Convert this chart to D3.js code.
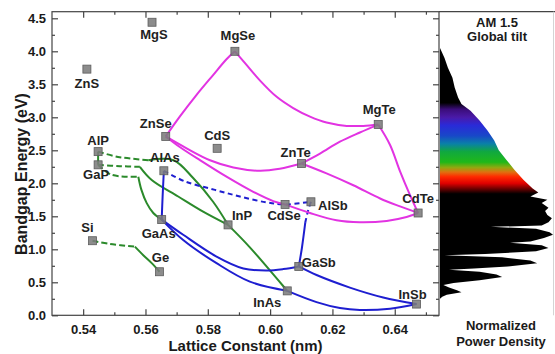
<!DOCTYPE html>
<html>
<head>
<meta charset="utf-8">
<script src="https://cdn.jsdelivr.net/npm/d3@7/dist/d3.min.js"></script>
<style>
	body {margin: 0; background: #fff;}
	svg {display: block; font-family: "Liberation Sans", Arial, sans-serif; font-weight: bold;}
</style>
</head>
<body>
<svg id="chart" width="555" height="354"></svg>
<script>
// Binary compounds: lattice constant (nm) and bandgap (eV)
const compounds = ["ZnS", "MgS", "MgSe", "ZnSe", "CdS", "AlP", "GaP", "AlAs", "GaAs", "Si",
	"Ge", "InP", "InAs", "CdSe", "AlSb", "GaSb", "InSb", "CdTe", "ZnTe", "MgTe"];
const latticeNm = [0.5412, 0.5621, 0.5887, 0.5665, 0.5830, 0.5448, 0.5448, 0.5659, 0.5652, 0.5430,
	0.5645, 0.5865, 0.6055, 0.6048, 0.6131, 0.6092, 0.6470, 0.6475, 0.6101, 0.6347];
const bandgapEv = [3.73, 4.44, 4.00, 2.71, 2.53, 2.48, 2.28, 2.19, 1.45, 1.13,
	0.66, 1.37, 0.37, 1.68, 1.72, 0.74, 0.17, 1.55, 2.30, 2.89];

// Alloy curves, [lattice nm, bandgap eV]
const alpGap = [[0.5448, 2.48], [0.5448, 2.28]];
const alpInpIndirect = [[0.5448, 2.48], [0.5512, 2.40], [0.5609, 2.35]];
const alpInpDirect = [[0.5609, 2.35], [0.5690, 2.35], [0.5753, 2.08], [0.5817, 1.72], [0.5865, 1.37]];
const gapInpIndirect = [[0.5448, 2.28], [0.5518, 2.26], [0.5582, 2.25]];
const gapInpDirect = [[0.5582, 2.25], [0.5620, 2.05], [0.5705, 1.80], [0.5785, 1.57], [0.5865, 1.37]];
const gapGaasIndirect = [[0.5448, 2.28], [0.5491, 2.13], [0.5577, 2.10]];
const gapGaasDirect = [[0.5577, 2.10], [0.5587, 1.90], [0.5604, 1.70], [0.5625, 1.55], [0.5652, 1.45]];
const inpInas = [[0.5865, 1.37], [0.5935, 1.03], [0.6055, 0.37]];
const siGeIndirect = [[0.5430, 1.13], [0.5486, 1.08], [0.5566, 1.04]];
const siGeDirect = [[0.5566, 1.04], [0.5593, 0.91], [0.5620, 0.79], [0.5645, 0.66]];

const alasGaas = [[0.5659, 2.19], [0.5655, 1.80], [0.5652, 1.45]];
const alasAlsb = [[0.5659, 2.19], [0.5726, 2.03], [0.5823, 1.90], [0.5903, 1.80], [0.5989, 1.71], [0.6048, 1.68], [0.6131, 1.72]];
const alsbGasbIndirect = [[0.6131, 1.72], [0.6121, 1.57], [0.6113, 1.41]];
const alsbGasbDirect = [[0.6113, 1.41], [0.6102, 1.02], [0.6092, 0.74]];
const gaasGasb = [[0.5652, 1.45], [0.5721, 1.22], [0.5828, 0.89], [0.5914, 0.71], [0.5989, 0.68], [0.6042, 0.70], [0.6092, 0.74]];
const gaasInas = [[0.5652, 1.45], [0.5721, 1.14], [0.5828, 0.79], [0.5935, 0.51], [0.6055, 0.37]];
const inasInsb = [[0.6055, 0.37], [0.6149, 0.20], [0.6224, 0.11], [0.6288, 0.08], [0.6385, 0.10], [0.6470, 0.17]];
const gasbInsb = [[0.6092, 0.74], [0.6149, 0.61], [0.6256, 0.42], [0.6363, 0.27], [0.6470, 0.17]];

const znseMgse = [[0.5665, 2.71], [0.5710, 3.01], [0.5764, 3.34], [0.5817, 3.64], [0.5860, 3.88], [0.5887, 4.00]];
const mgseMgte = [[0.5887, 4.00], [0.5925, 3.79], [0.5967, 3.56], [0.6021, 3.31], [0.6074, 3.14], [0.6128, 3.01],
	[0.6181, 2.92], [0.6246, 2.87], [0.6299, 2.87], [0.6347, 2.89]];
const znteMgte = [[0.6101, 2.30], [0.6160, 2.45], [0.6224, 2.63], [0.6288, 2.77], [0.6347, 2.89]];
const mgteCdte = [[0.6347, 2.89], [0.6385, 2.58], [0.6417, 2.18], [0.6449, 1.82], [0.6475, 1.55]];
const znseZnte = [[0.5665, 2.71], [0.5732, 2.53], [0.5807, 2.35], [0.5882, 2.24], [0.5967, 2.19], [0.6031, 2.22], [0.6101, 2.30]];
const znteCdte = [[0.6101, 2.30], [0.6181, 2.15], [0.6267, 1.97], [0.6353, 1.77], [0.6417, 1.65], [0.6475, 1.55]];
const znseCdse = [[0.5665, 2.71], [0.5710, 2.55], [0.5775, 2.35], [0.5860, 2.10], [0.5946, 1.87], [0.6010, 1.73], [0.6048, 1.68]];
const cdseCdte = [[0.6048, 1.68], [0.6128, 1.55], [0.6213, 1.44], [0.6288, 1.41], [0.6374, 1.43], [0.6438, 1.49], [0.6475, 1.55]];

// AM 1.5 spectrum: photon energy (eV) and normalized power density
const spectrumEv = [4.05, 3.90, 3.75, 3.60, 3.45, 3.30, 3.20, 3.10, 2.95, 2.80, 2.65, 2.50, 2.35, 2.20, 2.05,
	1.92, 1.86, 1.80, 1.75, 1.70, 1.63, 1.58, 1.52, 1.47, 1.41, 1.36, 1.34, 1.31, 1.26, 1.22, 1.17, 1.12,
	1.10, 1.06, 1.02, 0.97, 0.93, 0.91, 0.88, 0.83, 0.79, 0.74, 0.71, 0.69, 0.66, 0.62, 0.58, 0.53, 0.49,
	0.46, 0.42, 0.38, 0.35, 0.31, 0.28, 0.25];
const spectrumPower = [0, 0.04, 0.07, 0.11, 0.13, 0.16, 0.19, 0.27, 0.35, 0.42, 0.48, 0.52, 0.59, 0.66, 0.74,
	0.82, 0.87, 0.80, 0.95, 0.90, 0.96, 0.93, 0.95, 0.99, 0.96, 0.90, 0.45, 0.85, 0.97, 1.00, 0.92, 0.80,
	0.62, 0.90, 0.96, 0.85, 0.40, 0.04, 0.55, 0.80, 0.86, 0.60, 0.30, 0.08, 0.35, 0.50, 0.55, 0.35, 0.12,
	0.03, 0.08, 0.15, 0.19, 0.06, 0.02, 0];
const spectrumStopEv = [3.22, 3.12, 3.00, 2.88, 2.72, 2.60, 2.48, 2.32, 2.24, 2.17, 2.10, 2.00, 1.92, 1.84];
const spectrumStopColor = ["#000000", "#3b0d7a", "#4a1aa8", "#2a2ad8", "#1848c8", "#0a80a8", "#10a840",
	"#20b818", "#90a810", "#e07010", "#ff2a00", "#e00000", "#700000", "#000000"];

const xTicks = [0.54, 0.56, 0.58, 0.60, 0.62, 0.64];
const xMinorTicks = [0.55, 0.57, 0.59, 0.61, 0.63, 0.65];
const yTicks = [0, 0.5, 1.0, 1.5, 2.0, 2.5, 3.0, 3.5, 4.0, 4.5];
const yMinorTicks = [0.25, 0.75, 1.25, 1.75, 2.25, 2.75, 3.25, 3.75, 4.25];

// label placement relative to marker, pixels (dx to text centre, dy to baseline)
const labelOffset = {
	ZnS: [0, 19], MgS: [2, 17], MgSe: [3, -11], ZnSe: [-10, -8], CdS: [0, -8], AlP: [0, -7],
	GaP: [-2, 14], AlAs: [1, -9], GaAs: [-3, 18], Si: [-5, -9], Ge: [1, -10], InP: [14, -5],
	InAs: [-20, 16], CdSe: [-1, 16], AlSb: [22, 8], GaSb: [20, 1], InSb: [-4, -5], CdTe: [0, -10],
	ZnTe: [-6, -7], MgTe: [1, -11]
};

const COLORS = {green: "#2b8a2b", blue: "#1e1ed0", magenta: "#e233e2"};

const alloyLines = [
	{pts: alpGap, color: "green"},
	{pts: alpInpIndirect, color: "green", dashed: true},
	{pts: alpInpDirect, color: "green"},
	{pts: gapInpIndirect, color: "green", dashed: true},
	{pts: gapInpDirect, color: "green"},
	{pts: gapGaasIndirect, color: "green", dashed: true},
	{pts: gapGaasDirect, color: "green"},
	{pts: inpInas, color: "green"},
	{pts: siGeIndirect, color: "green", dashed: true},
	{pts: siGeDirect, color: "green"},
	{pts: alasGaas, color: "blue"},
	{pts: alasAlsb, color: "blue", dashed: true},
	{pts: alsbGasbIndirect, color: "blue", dashed: true},
	{pts: alsbGasbDirect, color: "blue"},
	{pts: gaasGasb, color: "blue"},
	{pts: gaasInas, color: "blue"},
	{pts: inasInsb, color: "blue"},
	{pts: gasbInsb, color: "blue"},
	{pts: znseMgse, color: "magenta"},
	{pts: mgseMgte, color: "magenta"},
	{pts: znteMgte, color: "magenta"},
	{pts: mgteCdte, color: "magenta"},
	{pts: znseZnte, color: "magenta"},
	{pts: znteCdte, color: "magenta"},
	{pts: znseCdse, color: "magenta"},
	{pts: cdseCdte, color: "magenta"}
];

const PLOT = {LEFT: 52, RIGHT: 439, TOP: 11.7, BOTTOM: 315.3};
const PANEL_RIGHT = 553;

const svg = d3.select("#chart");

const x = d3.scaleLinear().domain([0.53, 0.6542]).range([PLOT.LEFT, PLOT.RIGHT]);
const y = d3.scaleLinear().domain([0, 4.6]).range([PLOT.BOTTOM, PLOT.TOP]);
const power = d3.scaleLinear().domain([0, 1]).range([PLOT.RIGHT + 1, PANEL_RIGHT]);

// spectrum gradient, stops placed by photon energy
const y1 = y(spectrumStopEv[0]);
const y2 = y(spectrumStopEv[spectrumStopEv.length - 1]);
const grad = svg.append("defs").append("linearGradient")
	.attr("id", "specGrad")
	.attr("gradientUnits", "userSpaceOnUse")
	.attr("x1", 0).attr("x2", 0)
	.attr("y1", y1).attr("y2", y2);
grad.selectAll("stop")
	.data(spectrumStopEv)
	.enter()
	.append("stop")
	.attr("offset", (d) => (y(d) - y1) / (y2 - y1))
	.attr("stop-color", (d, i) => spectrumStopColor[i]);

// AM 1.5 spectrum panel
const spectrum = spectrumEv.map((e, i) => ({e: e, p: spectrumPower[i]}));
svg.append("path")
	.datum(spectrum)
	.attr("fill", "url(#specGrad)")
	.attr("d", d3.area()
		.y((d) => y(d.e))
		.x0(PLOT.RIGHT + 1)
		.x1((d) => power(d.p)));

svg.append("line")
	.attr("x1", PLOT.RIGHT).attr("x2", 555)
	.attr("y1", PLOT.TOP).attr("y2", PLOT.TOP)
	.attr("stroke", "#444").attr("stroke-width", 1.2);
svg.append("line")
	.attr("x1", PANEL_RIGHT + 0.5).attr("x2", PANEL_RIGHT + 0.5)
	.attr("y1", PLOT.TOP).attr("y2", PLOT.BOTTOM)
	.attr("stroke", "#d4d4d4").attr("stroke-width", 1);

// axes with inward ticks
function styleAxis(g)
{
	g.select(".domain").remove();
	g.selectAll(".tick line").attr("stroke", "#444").attr("stroke-width", 1.2);
	g.selectAll("text").attr("font-size", 13).attr("font-weight", "bold").attr("fill", "#1a1a1a")
		.attr("font-family", "\"Liberation Sans\", Arial, sans-serif");
}

svg.append("g")
	.attr("transform", "translate(0," + PLOT.BOTTOM + ")")
	.call(d3.axisBottom(x).tickValues(xTicks).tickSizeInner(-6).tickSizeOuter(0)
		.tickPadding(9.5).tickFormat(d3.format(".2f")))
	.call(styleAxis);
svg.append("g")
	.attr("transform", "translate(0," + PLOT.BOTTOM + ")")
	.call(d3.axisBottom(x).tickValues(xMinorTicks).tickSize(-3).tickFormat(""))
	.call(styleAxis);
svg.append("g")
	.attr("transform", "translate(0," + PLOT.TOP + ")")
	.call(d3.axisTop(x).tickValues(xTicks).tickSize(-6).tickFormat(""))
	.call(styleAxis);
svg.append("g")
	.attr("transform", "translate(0," + PLOT.TOP + ")")
	.call(d3.axisTop(x).tickValues(xMinorTicks).tickSize(-3).tickFormat(""))
	.call(styleAxis);

svg.append("g")
	.attr("transform", "translate(" + PLOT.LEFT + ",0)")
	.call(d3.axisLeft(y).tickValues(yTicks).tickSizeInner(-6).tickSizeOuter(0)
		.tickPadding(6).tickFormat(d3.format(".1f")))
	.call(styleAxis);
svg.append("g")
	.attr("transform", "translate(" + PLOT.LEFT + ",0)")
	.call(d3.axisLeft(y).tickValues(yMinorTicks).tickSize(-3).tickFormat(""))
	.call(styleAxis);
svg.append("g")
	.attr("transform", "translate(" + PLOT.RIGHT + ",0)")
	.call(d3.axisRight(y).tickValues(yTicks).tickSize(-6).tickFormat(""))
	.call(styleAxis);
svg.append("g")
	.attr("transform", "translate(" + PLOT.RIGHT + ",0)")
	.call(d3.axisRight(y).tickValues(yMinorTicks).tickSize(-3).tickFormat(""))
	.call(styleAxis);

// plot frame
svg.append("rect")
	.attr("x", PLOT.LEFT).attr("y", PLOT.TOP)
	.attr("width", PLOT.RIGHT - PLOT.LEFT).attr("height", PLOT.BOTTOM - PLOT.TOP)
	.attr("fill", "none").attr("stroke", "#444").attr("stroke-width", 1.2);

// alloy curves
const curve = d3.line()
	.x((d) => x(d[0]))
	.y((d) => y(d[1]))
	.curve(d3.curveCatmullRom.alpha(0.5));

svg.append("g").selectAll("path")
	.data(alloyLines)
	.enter()
	.append("path")
	.attr("d", (d) => curve(d.pts))
	.attr("fill", "none")
	.attr("stroke", (d) => COLORS[d.color])
	.attr("stroke-width", 2)
	.attr("stroke-linecap", "butt")
	.attr("stroke-dasharray", (d) => d.dashed ? (d.color === "blue" ? "5,3.5" : "6,3") : null);

// compound markers
svg.append("g").selectAll("rect")
	.data(compounds)
	.enter()
	.append("rect")
	.attr("x", (d, i) => x(latticeNm[i]) - 4)
	.attr("y", (d, i) => y(bandgapEv[i]) - 4)
	.attr("width", 8)
	.attr("height", 8)
	.attr("fill", "#7c7c7c")
	.attr("fill-opacity", 0.88)
	.attr("stroke", "#5c5c5c")
	.attr("stroke-width", 0.8);

// compound labels
svg.append("g").selectAll("text")
	.data(compounds)
	.enter()
	.append("text")
	.attr("x", (d, i) => x(latticeNm[i]) + labelOffset[d][0])
	.attr("y", (d, i) => y(bandgapEv[i]) + labelOffset[d][1])
	.attr("text-anchor", "middle")
	.attr("font-size", 13)
	.attr("fill", "#222")
	.text((d) => d);

// axis titles
svg.append("text")
	.attr("x", (PLOT.LEFT + PLOT.RIGHT) / 2)
	.attr("y", 351)
	.attr("text-anchor", "middle")
	.attr("font-size", 15)
	.attr("fill", "#1a1a1a")
	.text("Lattice Constant (nm)");

svg.append("text")
	.attr("transform", "translate(27,174) rotate(-90)")
	.attr("text-anchor", "middle")
	.attr("font-size", 16)
	.attr("fill", "#1a1a1a")
	.text("Bandgap Energy (eV)");

// spectrum panel titles
const panelMid = 497;
svg.append("text").attr("x", panelMid).attr("y", 27).attr("text-anchor", "middle")
	.attr("font-size", 13).attr("fill", "#1a1a1a").text("AM 1.5");
svg.append("text").attr("x", panelMid).attr("y", 41).attr("text-anchor", "middle")
	.attr("font-size", 13).attr("fill", "#1a1a1a").text("Global tilt");
svg.append("text").attr("x", 501).attr("y", 330).attr("text-anchor", "middle")
	.attr("font-size", 13).attr("fill", "#1a1a1a").text("Normalized");
svg.append("text").attr("x", 501).attr("y", 346).attr("text-anchor", "middle")
	.attr("font-size", 13).attr("fill", "#1a1a1a").text("Power Density");
</script>
</body>
</html>
